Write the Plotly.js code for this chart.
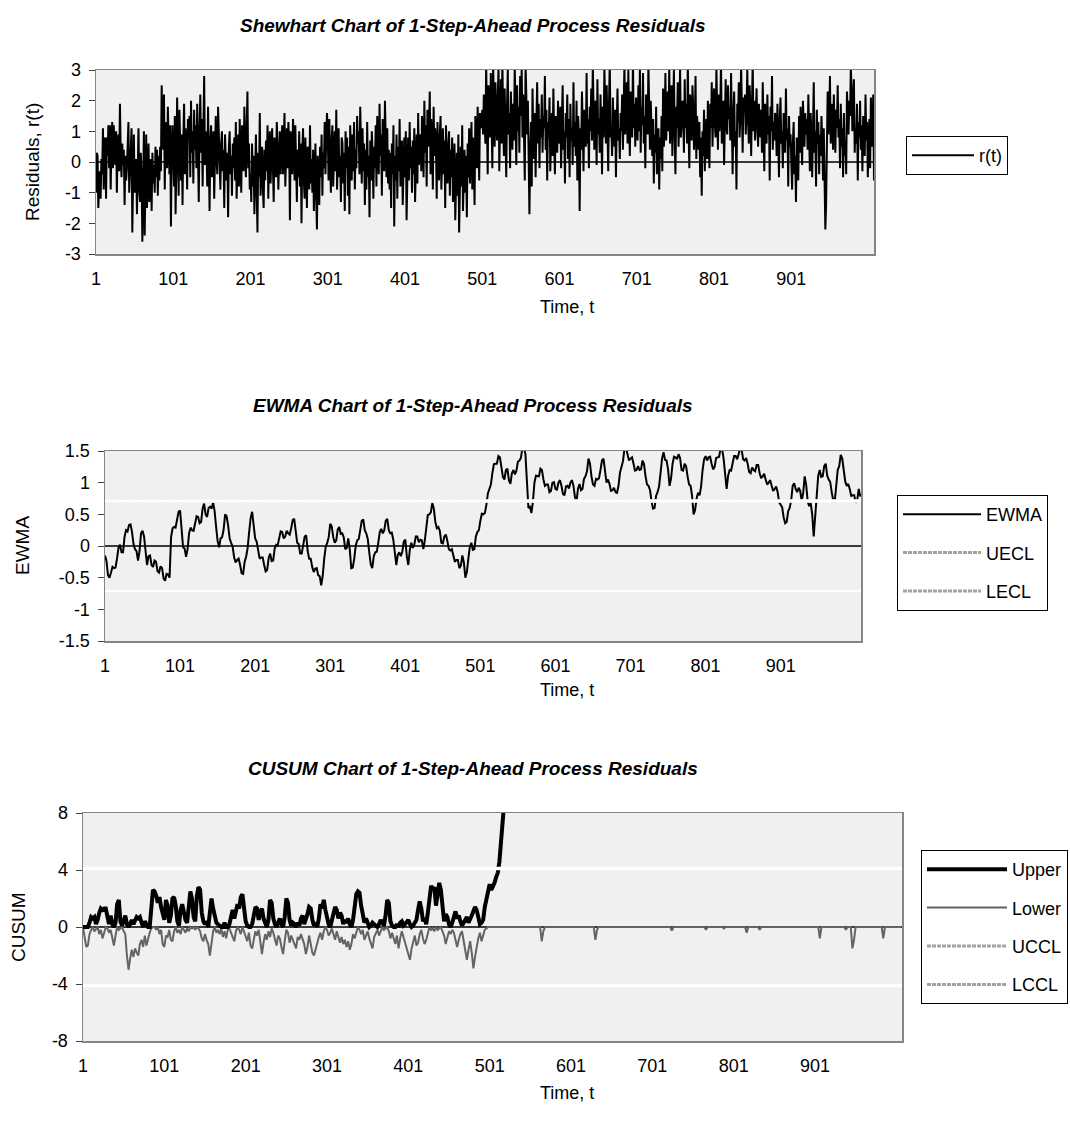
<!DOCTYPE html>
<html>
<head>
<meta charset="utf-8">
<script src="https://cdn.plot.ly/plotly-3.0.1.min.js"></script>
<style>
html,body{margin:0;padding:0;background:#ffffff;}
#chart{width:1070px;height:1122px;}
</style>
</head>
<body>
<div id="chart"></div>
<script>
// ---------- data ----------
// Shewhart chart: 1-step-ahead residuals r(t), t = 1, 2, 3, ...
const residuals = [
-1.0,0.3,0.2,-1.5,-0.8,-0.3,-1.2,0.1,-0.4,1.1,-0.9,0.8,0.7,-1.2,0.8,0.2,1.2,-0.2,1.2,-0.9,
0.6,1.3,-0.2,1.2,0.4,-0.1,1.0,-1.0,0.5,0.9,-0.3,1.9,0.3,-0.5,0.6,-0.1,0.4,-1.4,0.2,-0.6,
-0.2,0.5,1.3,-1.0,-0.3,0.4,1.1,-2.3,0.2,0.9,-1.0,-0.4,0.1,-1.7,0.6,1.1,-0.9,-1.3,0.3,-0.5,
-2.6,-0.4,1.0,-2.4,-0.8,0.9,-1.5,-0.2,0.6,-1.3,-0.6,0.1,-1.6,0.3,-0.7,-0.1,-1.0,0.5,-0.5,0.4,
-1.1,0.2,-0.6,0.5,-0.3,2.5,1.0,0.4,2.2,-0.9,1.3,0.2,-0.2,1.8,0.5,-0.4,1.2,-2.1,0.3,1.2,
0.2,-0.8,1.5,-1.7,-0.2,2.1,0.5,-1.1,1.7,0.3,-0.6,0.9,-1.4,0.7,1.9,-0.4,1.1,0.4,-0.9,1.4,
0.8,1.5,-0.5,2.0,0.3,1.0,-0.7,1.7,0.4,1.2,-0.2,1.9,0.6,-1.3,1.0,2.2,0.3,1.4,-0.8,0.9,
2.8,-0.1,1.0,0.4,-0.8,1.8,0.5,-1.6,0.7,1.2,-0.5,0.3,1.0,-1.2,0.6,1.5,0.1,-0.4,1.8,0.9,
0.2,-0.9,0.6,1.0,-0.3,0.4,-1.5,0.9,0.1,-0.6,0.3,-1.8,0.5,1.0,-0.4,0.2,-1.1,0.6,-0.2,0.8,
-0.6,1.3,-1.2,0.4,0.9,-0.8,1.4,0.2,-1.0,1.2,0.5,-0.3,1.8,0.7,-0.5,1.1,2.3,-0.2,0.6,-0.9,
-0.4,-1.3,0.6,-0.8,0.2,-1.7,-0.3,0.9,-1.0,-2.3,0.3,-0.5,1.6,-1.1,-0.2,0.5,-0.9,-1.5,0.4,-0.6,
0.7,-0.3,1.2,-1.2,0.4,1.0,-0.7,0.3,1.1,-0.2,-1.3,0.8,0.2,-0.5,1.3,0.6,-0.9,0.4,1.0,-0.4,
0.5,1.2,-0.4,0.9,1.6,-0.8,0.3,1.1,-0.2,1.3,0.6,-1.9,1.0,0.2,-0.4,1.4,0.8,-0.6,1.2,-0.1,
-1.3,0.4,-0.5,1.0,-0.8,0.6,-2.0,0.3,1.1,-0.6,-1.2,0.8,-0.3,-1.5,0.5,0.2,-0.9,1.2,-0.7,0.1,
-1.0,0.4,-1.6,-0.3,0.6,-1.2,-2.2,0.2,-0.8,-1.4,0.5,-0.5,0.9,-1.1,0.3,-0.2,1.3,-0.4,0.8,1.6,
0.9,-0.6,1.4,0.3,-1.0,0.7,1.2,-0.8,0.5,1.0,-0.3,1.7,-0.9,0.4,1.1,-0.5,0.2,-1.3,0.8,0.6,
-0.7,0.3,-1.6,1.0,-0.2,0.8,-1.1,0.5,-1.7,1.2,0.1,-0.6,0.9,-0.3,1.3,-0.9,0.4,-0.2,1.5,0.6,
1.0,-0.4,1.8,0.2,-0.7,1.1,-0.3,0.6,-1.4,0.4,-0.9,1.3,-0.5,0.2,-1.8,0.7,-0.6,1.0,0.3,-1.2,
0.5,-0.2,1.2,-0.8,1.5,0.4,-0.4,1.9,0.2,0.9,-1.1,1.4,0.6,-0.3,2.0,0.8,-0.5,1.1,-0.7,0.4,
-0.9,0.3,-1.5,0.6,-0.4,1.2,-2.1,0.2,-0.6,0.9,-1.2,0.5,-0.3,1.4,-0.8,0.1,0.7,-1.4,0.3,0.8,
-0.5,1.0,-1.9,0.4,0.8,-0.6,1.3,-0.2,0.5,-1.0,0.7,-0.4,1.1,-1.3,0.2,0.9,-0.7,1.6,-0.1,0.4,
0.9,-0.3,1.5,0.6,-0.5,2.0,0.3,1.2,-0.8,1.7,0.5,1.0,2.3,-0.4,1.4,0.7,-0.9,1.8,0.2,1.1,
0.6,-1.2,1.3,0.1,-0.6,0.9,1.5,-0.9,0.3,1.1,-0.4,0.7,-1.5,1.2,0.2,-0.7,0.5,1.0,-1.1,0.4,
-0.5,0.8,-1.3,-0.2,0.6,-1.9,-0.6,0.3,-1.1,0.9,-2.3,-0.4,0.5,-0.8,1.2,-1.6,-0.3,0.4,-1.0,0.2,
-1.8,0.6,-0.5,1.1,-0.7,0.3,1.3,-0.9,0.8,0.2,-1.4,1.5,0.4,-0.2,1.8,0.9,-0.6,1.6,1.1,1.4,
1.7,0.9,2.2,1.3,0.6,3.2,1.0,-0.4,2.5,1.6,0.8,2.9,1.2,-0.2,3.3,1.8,0.5,2.6,1.4,0.7,
2.1,3.1,-0.3,1.5,2.7,0.6,3.4,1.2,0.2,2.4,1.0,-0.5,1.8,3.0,0.9,1.6,-0.2,2.3,1.1,0.4,
1.9,0.7,3.2,1.3,-0.1,2.5,1.0,1.8,0.3,2.8,1.5,3.1,0.8,2.2,1.2,-0.6,3.3,1.7,0.9,2.0,
0.5,-1.7,0.2,1.3,-0.8,2.4,0.9,0.1,1.6,-0.5,1.2,2.6,0.6,1.9,-0.2,1.4,0.8,2.2,0.3,1.5,
1.1,2.8,0.4,1.7,-0.6,1.3,0.8,2.1,-0.3,1.0,1.6,0.2,2.4,0.7,-0.4,1.5,1.2,0.3,2.0,0.9,
0.6,1.8,-0.2,1.3,2.5,0.4,1.0,-0.7,1.6,0.8,2.2,0.1,1.4,-0.5,1.9,0.7,1.1,-0.1,2.6,0.5,
1.3,0.2,2.0,-0.6,1.5,0.9,-1.6,1.1,0.4,2.3,0.8,-0.3,1.7,1.2,0.5,2.9,0.6,1.4,-0.2,1.8,
1.0,2.4,0.7,3.2,1.3,0.4,2.0,1.6,-0.1,2.7,0.9,1.4,0.3,2.2,1.1,-0.4,1.8,0.8,3.1,1.2,
0.6,2.5,1.5,-0.3,1.9,3.3,0.8,1.2,0.2,2.1,1.0,0.5,1.7,-0.5,1.3,2.4,0.7,1.1,0.1,1.6,
1.0,2.2,0.4,1.8,3.2,0.9,1.5,2.6,0.6,3.0,1.3,0.2,2.3,1.7,0.8,3.4,1.1,1.9,0.5,2.1,
1.4,0.7,2.5,1.0,3.1,0.3,1.8,1.2,2.9,0.6,1.5,-0.2,2.2,1.3,0.9,3.2,1.6,0.4,2.0,1.1,
0.2,1.4,-0.7,0.9,0.3,1.8,-0.4,0.6,1.1,-0.9,0.8,0.1,1.5,-0.3,2.4,0.5,1.2,2.9,0.7,1.6,
2.3,1.0,3.2,0.6,1.7,2.5,0.2,1.3,3.0,0.9,-0.4,1.8,1.1,2.6,0.5,1.5,3.1,0.8,1.2,2.0,
1.6,0.3,2.7,1.1,1.9,0.6,3.3,1.0,-0.2,2.2,1.4,0.7,2.5,1.8,0.4,1.2,2.8,0.1,1.5,0.9,
0.4,1.3,-0.5,0.8,-1.1,1.0,0.2,1.7,-0.3,0.6,1.4,0.1,2.0,0.7,-0.2,1.9,1.1,2.6,0.5,1.8,
2.4,1.2,0.8,3.1,1.5,0.4,2.2,1.0,1.7,3.3,0.6,1.3,2.0,-0.1,1.6,2.7,1.1,0.9,2.5,1.4,
1.8,0.7,2.9,1.2,-0.4,1.5,2.3,0.5,1.0,-0.9,1.9,1.3,2.6,0.8,1.4,3.2,1.1,0.3,2.1,1.6,
2.2,0.9,1.7,3.0,1.3,0.6,2.5,1.8,0.2,1.4,3.3,1.0,2.0,0.7,1.6,2.4,1.1,0.5,1.9,1.2,
0.8,1.7,0.3,2.6,1.1,-0.3,1.9,1.4,0.6,2.2,0.9,1.5,-0.6,1.8,1.0,2.8,0.4,1.3,0.7,1.6,
1.2,0.2,1.9,0.8,-0.5,1.4,2.1,0.6,1.0,-0.2,1.6,0.9,0.3,2.4,0.7,1.1,-0.8,1.5,0.5,0.9,
0.1,-0.9,0.6,1.3,-0.4,0.2,-1.3,0.8,0.4,-0.6,1.5,0.3,1.8,0.7,-0.1,2.0,1.2,0.5,1.6,0.9,
1.4,0.4,2.2,0.8,-0.3,1.6,0.9,-0.5,1.2,2.6,0.3,1.0,-0.8,1.7,0.6,1.3,-0.4,0.9,0.2,1.5,
0.7,-0.6,1.1,-1.0,-2.2,-1.4,1.8,2.3,0.9,1.5,2.8,0.6,1.2,1.9,0.4,2.2,1.0,0.3,1.7,1.1,
2.5,0.8,1.4,-0.2,1.9,0.5,1.1,-0.5,1.6,0.2,0.7,-0.4,2.3,1.3,0.9,2.0,1.5,3.1,2.4,1.0,
1.6,2.7,0.3,1.1,0.6,1.9,-0.6,1.3,0.8,2.0,0.4,1.2,-0.3,1.5,0.9,0.2,2.2,0.7,1.3,-0.5,
0.6,1.4,-0.2,2.1,0.5,1.0,2.2,-0.6
];

// EWMA chart: values read every 2nd time step (t = 1, 3, 5, ...)
const ewmaStep = 2;
const ewma = [
-0.15,-0.24,-0.46,-0.50,-0.42,-0.33,-0.35,-0.34,-0.2,-0.03,
0.02,-0.1,-0.1,0.14,0.25,0.23,0.33,0.34,0.22,0.03,
-0.05,-0.08,-0.23,-0.08,0.2,0.24,0.15,-0.14,-0.3,-0.16,
-0.15,-0.3,-0.33,-0.23,-0.25,-0.4,-0.42,-0.32,-0.35,-0.51,
-0.55,-0.44,-0.45,-0.5,0.14,0.28,0.3,0.29,0.4,0.54,
0.56,0.21,-0.02,-0.04,-0.17,-0.05,0.2,0.29,0.25,0.24,
0.35,0.47,0.46,0.36,0.38,0.59,0.67,0.5,0.46,0.6,
0.62,0.59,0.69,0.55,0.3,0.08,-0.02,0.12,0.14,0.26,
0.5,0.47,0.32,0.12,0.05,-0.01,-0.18,-0.26,-0.22,-0.2,
-0.3,-0.43,-0.44,-0.25,-0.17,-0.03,0.22,0.44,0.54,0.27,
0.12,0.07,-0.1,-0.2,-0.18,-0.18,-0.3,-0.4,-0.38,-0.19,
-0.12,-0.24,-0.23,-0.04,0.02,0.01,0.12,0.23,0.22,0.12,
0.15,0.24,0.2,0.18,0.28,0.41,0.43,0.18,0.05,0.03,
-0.12,-0.12,0,0.15,0.17,-0.08,-0.2,-0.2,-0.33,-0.41,
-0.36,-0.35,-0.46,-0.48,-0.62,-0.47,-0.2,-0.01,0.05,0.14,
0.35,0.31,0.14,0.05,0.09,0.26,0.3,0.19,0.2,0.14,
-0.05,-0.03,0.12,-0.05,-0.35,-0.34,-0.2,0.01,0.09,0.11,
0.25,0.4,0.42,0.25,0.2,0.11,-0.1,-0.29,-0.35,-0.16,
-0.1,-0.09,0.05,0.22,0.27,0.2,0.25,0.4,0.43,0.25,
0.2,0.21,0.1,-0.16,-0.3,-0.14,-0.1,-0.16,-0.09,0.07,
0.1,-0.16,-0.3,-0.06,0.05,-0.03,0.02,0.15,0.15,0.06,
0.1,0.09,-0.05,0.09,0.35,0.49,0.5,0.53,0.68,0.59,
0.38,0.28,0.3,0.24,0.05,0.04,0.15,0.18,0.08,-0.05,
-0.07,-0.05,-0.15,-0.25,-0.22,-0.22,-0.35,-0.31,-0.15,-0.26,
-0.5,-0.41,-0.2,-0.01,0.05,-0.06,-0.05,0.15,0.22,0.25,
0.4,0.51,0.5,0.52,0.65,0.83,0.9,0.97,1.15,1.29,
1.3,1.3,1.42,1.4,1.25,1.09,1.05,1.2,1.22,1.04,
0.98,1.15,1.2,1.13,1.19,1.33,1.35,1.39,1.55,1.56,
1.45,0.96,0.6,0.62,0.52,0.7,1.0,1.11,1.1,1.1,
1.22,1.2,1.05,0.95,0.97,0.97,0.85,0.87,1.0,1.01,
0.9,0.89,1.0,1.04,0.95,0.82,0.8,0.94,0.95,0.91,
1.0,1.04,0.95,0.77,0.7,0.9,0.98,0.88,0.9,1.06,
1.1,1.18,1.38,1.3,1.1,0.97,0.95,1.06,1.05,1.07,
1.2,1.35,1.38,1.13,1.0,1.05,0.98,0.87,0.88,0.92,
0.85,0.84,0.95,1.16,1.25,1.34,1.55,1.56,1.45,1.35,
1.38,1.4,1.3,1.19,1.2,1.26,1.2,1.21,1.35,1.29,
1.1,0.97,0.95,0.88,0.7,0.59,0.6,0.79,0.85,0.94,
1.15,1.38,1.48,1.36,1.35,1.21,0.95,1.07,1.3,1.41,
1.4,1.37,1.45,1.39,1.2,1.19,1.3,1.26,1.1,0.97,
0.95,0.79,0.5,0.57,0.75,0.84,0.8,0.94,1.2,1.37,
1.42,1.35,1.4,1.41,1.3,1.21,1.25,1.39,1.4,1.41,
1.55,1.53,1.38,1.08,0.9,1.11,1.2,1.19,1.3,1.42,
1.42,1.37,1.45,1.55,1.52,1.37,1.35,1.39,1.3,1.17,
1.15,1.24,1.2,1.18,1.28,1.28,1.15,1.07,1.1,1.14,
1.05,0.97,1.0,1.04,0.95,0.87,0.9,0.94,0.85,0.69,
0.65,0.61,0.45,0.36,0.38,0.55,0.6,0.72,0.95,0.99,
0.9,0.85,0.92,0.87,0.7,0.84,1.1,0.96,0.7,0.63,
0.68,0.5,0.15,0.52,0.9,1.11,1.2,1.09,1.1,1.26,
1.3,1.11,1.05,1.01,0.85,0.72,0.7,1.01,1.2,1.26,
1.44,1.38,1.2,1.02,0.95,0.98,0.9,0.79,0.8,0.8,
0.68,0.73,0.9,0.78
];
const uecl = 0.71;
const lecl = -0.71;

// CUSUM chart: values read every 2nd time step (t = 1, 3, 5, ...)
const cusumStep = 2;
const cusumUpper = [
0,0,0,0,0.3,0.7,0.6,0.7,0.2,0.5,
1.0,1.3,1.2,1.3,1.3,0.6,0.2,0.8,0.2,0,
0.3,1.6,1.9,0.4,0.1,0.4,0.8,0.2,0,0.2,
0.5,0.2,0.4,0.7,0.6,0.7,0.3,0,0.4,0.2,
0,0,1.2,2.6,2.5,2.2,1.7,2.1,1.4,1.0,
0.5,1.9,1.5,0.3,0.8,2.0,2.1,1.5,0.4,0.1,
1.2,1.6,1.0,0.5,0.3,1.8,2.5,2.0,0.7,0.4,
2.2,2.8,2.6,1.0,0.4,0.2,0.4,0,1.0,2.0,
1.3,0.6,0.3,0.2,0.1,0,0,0.3,0,0,
0.2,0.8,1.2,0.6,1.0,1.6,1.3,2.1,2.3,1.1,
0.4,0.1,0,0,0.2,0.8,1.4,1.3,0.5,1.0,
1.3,0.6,0.2,0,0.5,1.9,1.7,0.6,0.2,0,
0.3,0.6,0.2,0,0.7,2.0,1.7,0.5,0.1,0.3,
0.2,0,0.3,0.1,0.6,0.8,0.2,0.5,0.9,1.4,
1.3,0.5,0.1,0.3,0,0.6,1.6,1.3,1.9,1.2,
0.5,0.2,0,0.4,1.0,1.4,1.2,0.6,1.0,0.8,
0.2,0.5,0.3,0.6,0.2,0,0.5,1.2,2.3,2.5,
2.4,1.5,0.8,0.3,0.6,0.2,0,0.1,0.3,0.2,
0.1,0,0.2,0.5,0.3,0.1,0.8,1.9,1.7,0.4,
0.1,0,0,0.2,0,0.3,0.4,0.1,0.2,0.4,
0.5,0.2,0,0.1,0.3,0.5,1.2,1.8,1.3,0.4,
0.6,0.2,1.0,2.2,2.9,2.6,2.8,1.5,2.4,3.1,
2.6,1.2,0.4,0.9,0.7,0.2,0,0.3,0.8,1.1,
0.6,0.8,0.4,0.1,0.3,0.5,0.7,0.3,0.5,0.8,
1.1,1.4,1.2,0.6,0.2,0.3,0.5,1.4,1.9,2.4,
3.0,2.6,2.8,3.1,3.5,3.8,4.6,6.0,7.4,8.8,
10.2
];
const cusumLower = [
0,-0.6,-1.4,-1.3,-0.5,-0.2,0,-0.3,-0.1,0,
-0.5,-0.2,-0.8,-0.3,0,-0.1,-0.4,-0.2,-0.9,-1.3,
-0.6,0,-0.2,-0.1,0,-0.3,-0.5,-2.0,-3.0,-2.2,
-1.6,-2.1,-1.5,-1.8,-2.0,-1.2,-0.9,-1.4,-0.6,-1.3,
-0.8,-0.4,-0.1,0,0,-0.2,0,-0.5,-0.2,-1.2,
-1.4,-0.6,-0.7,-0.2,-0.9,-1.0,-0.3,0,-0.4,-0.2,
-0.5,0,-0.2,-0.4,-0.1,-0.3,0,-0.1,0,-0.2,
0,-0.1,-0.3,-0.8,-1.0,-0.5,-0.9,-1.2,-2.0,-1.1,
-0.3,0,-0.4,-0.2,-0.5,-0.1,-0.7,-0.3,-0.8,-0.2,
-0.1,-0.4,-0.7,-1.0,-0.3,0,-0.2,-0.5,0,-0.3,
-0.6,-1.0,-0.4,-1.3,-1.5,-0.9,-0.3,-0.6,-0.2,-1.0,
-1.9,-1.1,-0.5,-0.9,-0.3,-0.7,-0.1,-0.4,-0.9,-1.3,
-0.6,-0.8,-1.4,-1.9,-1.0,-0.2,-0.4,-1.1,-0.6,-0.9,
-1.3,-1.5,-0.7,-0.9,-0.5,-0.8,-1.2,-1.9,-1.4,-0.6,
-1.1,-1.8,-2.0,-1.5,-1.2,-0.7,-0.4,-0.9,-0.3,0,
-0.2,-0.6,-0.4,-0.1,-0.5,-0.9,-0.3,-0.8,-1.1,-0.7,
-1.2,-0.9,-1.4,-1.0,-1.6,-1.2,-0.5,-0.8,-0.3,0,
-0.2,-0.5,-0.2,-0.9,-0.6,-0.3,-0.8,-1.2,-1.5,-0.7,
-0.4,-0.2,-0.6,-0.3,0,-0.2,-0.1,0,-0.3,-0.8,
-0.4,-0.9,-1.2,-0.6,-1.5,-0.8,-0.3,-0.7,-1.1,-1.6,
-1.9,-2.3,-1.5,-1.0,-0.6,-1.3,-1.1,-0.5,-0.2,-0.8,
-1.2,-0.9,-0.4,0,-0.2,-0.1,-0.3,0,-0.2,-0.1,
0,-0.3,-0.6,-1.2,-0.8,-0.3,-0.5,-0.2,-0.4,-1.0,
-1.4,-0.9,-0.5,-0.3,-0.9,-1.5,-2.3,-1.6,-1.0,-1.8,
-2.9,-2.1,-1.4,-0.8,-0.4,-1.0,-0.6,-0.2,-0.1,0,
0,0,0,0,0,0,0,0,0,0,
0,0,0,0,0,0,0,0,0,0,
0,0,0,0,0,0,0,0,0,0,
0,0,-1.0,-0.3,0,0,0,0,0,0,
0,0,0,0,0,0,0,0,0,0,
0,0,0,0,0,0,0,0,0,0,
0,0,0,0,0,-0.9,-0.2,0,0,0,
0,0,0,0,0,0,0,0,0,0,
0,0,0,0,0,0,0,0,0,0,
0,0,0,0,0,0,0,0,0,0,
0,0,0,0,0,0,0,0,0,0,
0,0,-0.25,0,0,0,0,0,0,0,
0,0,0,0,0,0,0,0,0,0,
0,0,0,-0.2,0,0,0,0,0,0,
0,0,0,0,-0.1,0,0,0,0,0,
0,0,0,0,0,0,0,0,-0.4,0,
0,0,0,0,0,0,-0.2,0,0,0,
0,0,0,0,0,0,0,0,0,0,
0,0,0,0,0,0,0,0,0,0,
0,0,0,0,0,0,0,0,0,0,
0,0,0,-0.8,0,0,0,0,0,0,
0,0,0,0,0,0,0,0,0,-0.2,
0,0,0,-1.5,-0.9,0,0,0,0,0,
0,0,0,0,0,0,0,0,0,0,
0,0,-0.8,0,0,0,0,0,0,0,
0,0,0,0
];
const uccl = 4.1;
const lccl = -4.1;

// axis ticks
const timeTicks = [1, 101, 201, 301, 401, 501, 601, 701, 801, 901];
const rTicks = [-3, -2, -1, 0, 1, 2, 3];
const ewmaTicks = [-1.5, -1, -0.5, 0, 0.5, 1, 1.5];
const cusumTicks = [-8, -4, 0, 4, 8];

// ---------- build ----------
const N = residuals.length;
const tR = residuals.map((_, i) => i + 1);
const tE = ewma.map((_, i) => 1 + ewmaStep * i);
const tCu = cusumUpper.map((_, i) => 1 + cusumStep * i);
const tCl = cusumLower.map((_, i) => 1 + cusumStep * i);
const tSpan = [1, N];
const flat = v => [v, v];

const W = 1070, H = 1122;
const px = v => v / W;
const py = v => 1 - v / H;
const FONT = 'Arial, "Liberation Sans", Helvetica, sans-serif';
const limitLegendColor = '#a3a3a3';

const traces = [
  // Shewhart
  {x: tR, y: residuals, type: 'scatter', mode: 'lines', name: 'r(t)',
   xaxis: 'x', yaxis: 'y', legend: 'legend',
   line: {color: '#000000', width: 2}},
  // EWMA
  {x: tE, y: ewma, type: 'scatter', mode: 'lines', name: 'EWMA',
   xaxis: 'x2', yaxis: 'y2', legend: 'legend2', legendgroup: 'e1',
   line: {color: '#000000', width: 2}},
  {x: tSpan, y: flat(uecl), type: 'scatter', mode: 'lines', name: 'UECL',
   xaxis: 'x2', yaxis: 'y2', legend: 'legend2', legendgroup: 'e2',
   line: {color: limitLegendColor, width: 3, dash: '4px,1px'}},
  {x: tSpan, y: flat(lecl), type: 'scatter', mode: 'lines', name: 'LECL',
   xaxis: 'x2', yaxis: 'y2', legend: 'legend2', legendgroup: 'e3',
   line: {color: limitLegendColor, width: 3, dash: '4px,1px'}},
  {x: tSpan, y: flat(uecl), type: 'scatter', mode: 'lines', showlegend: false,
   xaxis: 'x2', yaxis: 'y2', line: {color: '#ffffff', width: 3.5}, hoverinfo: 'skip'},
  {x: tSpan, y: flat(lecl), type: 'scatter', mode: 'lines', showlegend: false,
   xaxis: 'x2', yaxis: 'y2', line: {color: '#ffffff', width: 3.5}, hoverinfo: 'skip'},
  // CUSUM
  {x: tCl, y: cusumLower, type: 'scatter', mode: 'lines', name: 'Lower',
   xaxis: 'x3', yaxis: 'y3', legend: 'legend3', legendgroup: 'c2', legendrank: 2,
   line: {color: '#646464', width: 2}},
  {x: tCu, y: cusumUpper, type: 'scatter', mode: 'lines', name: 'Upper',
   xaxis: 'x3', yaxis: 'y3', legend: 'legend3', legendgroup: 'c1', legendrank: 1,
   line: {color: '#000000', width: 4}},
  {x: tSpan, y: flat(uccl), type: 'scatter', mode: 'lines', name: 'UCCL',
   xaxis: 'x3', yaxis: 'y3', legend: 'legend3', legendgroup: 'c3', legendrank: 3,
   line: {color: limitLegendColor, width: 3, dash: '4px,1px'}},
  {x: tSpan, y: flat(lccl), type: 'scatter', mode: 'lines', name: 'LCCL',
   xaxis: 'x3', yaxis: 'y3', legend: 'legend3', legendgroup: 'c4', legendrank: 4,
   line: {color: limitLegendColor, width: 3, dash: '4px,1px'}},
  {x: tSpan, y: flat(uccl), type: 'scatter', mode: 'lines', showlegend: false,
   xaxis: 'x3', yaxis: 'y3', line: {color: '#ffffff', width: 3.5}, hoverinfo: 'skip'},
  {x: tSpan, y: flat(lccl), type: 'scatter', mode: 'lines', showlegend: false,
   xaxis: 'x3', yaxis: 'y3', line: {color: '#ffffff', width: 3.5}, hoverinfo: 'skip'}
];

function xAxis(d0, d1, anchor) {
  return {
    domain: [px(d0), px(d1)], anchor: anchor, range: [1, N],
    tickmode: 'array', tickvals: timeTicks, ticktext: timeTicks.map(String),
    ticks: '', showgrid: false, zeroline: false,
    showline: true, mirror: true, linecolor: '#858585', linewidth: 1.5,
    tickfont: {family: FONT, size: 18, color: '#000'}, ticklabelstandoff: 8
  };
}
function yAxis(top, bottom, anchor, ticks, range) {
  return {
    domain: [py(bottom), py(top)], anchor: anchor, range: range,
    tickmode: 'array', tickvals: ticks, ticktext: ticks.map(String),
    ticks: 'outside', ticklen: 6, tickwidth: 1, tickcolor: '#444',
    showgrid: false, zeroline: true, zerolinecolor: '#3a3a3a', zerolinewidth: 1.2,
    showline: true, mirror: true, linecolor: '#858585', linewidth: 1.5,
    tickfont: {family: FONT, size: 18, color: '#000'}, ticklabelstandoff: 4
  };
}
function legendBox(x, y, gap, itemW) {
  return {
    x: px(x), y: py(y), xanchor: 'left', yanchor: 'top',
    bgcolor: '#ffffff', bordercolor: '#000000', borderwidth: 1,
    font: {family: FONT, size: 18, color: '#000'},
    itemwidth: itemW, tracegroupgap: gap, traceorder: 'grouped'
  };
}
function note(text, x, y, size, angle) {
  return {text: text, xref: 'paper', yref: 'paper', x: px(x), y: py(y),
    xanchor: 'center', yanchor: 'middle', showarrow: false, textangle: angle || 0,
    font: {family: FONT, size: size, color: '#000'}};
}

const layout = {
  width: W, height: H,
  margin: {l: 0, r: 0, t: 0, b: 0},
  paper_bgcolor: '#ffffff', plot_bgcolor: '#f0f0f0',
  font: {family: FONT, size: 18, color: '#000'},
  xaxis: xAxis(96, 874, 'y'),
  yaxis: yAxis(70, 254, 'x', rTicks, [-3, 3]),
  xaxis2: xAxis(105, 861, 'y2'),
  yaxis2: yAxis(451, 641, 'x2', ewmaTicks, [-1.5, 1.5]),
  xaxis3: xAxis(83, 902, 'y3'),
  yaxis3: yAxis(813, 1041, 'x3', cusumTicks, [-8, 8]),
  legend: legendBox(906, 136, 0, 62),
  legend2: legendBox(897, 495, 12, 78),
  legend3: legendBox(921, 850, 12, 80),
  annotations: [
    note('<b><i>Shewhart Chart of 1-Step-Ahead Process Residuals</i></b>', 473, 25, 19),
    note('<b><i>EWMA Chart of 1-Step-Ahead Process Residuals</i></b>', 473, 406, 19),
    note('<b><i>CUSUM Chart of 1-Step-Ahead Process Residuals</i></b>', 473, 768, 19),
    note('Time, t', 567, 307, 18),
    note('Time, t', 567, 690, 18),
    note('Time, t', 567, 1093, 18),
    note('Residuals, r(t)', 32, 162, 19, -90),
    note('EWMA', 23, 546, 19, -90),
    note('CUSUM', 18, 927, 19, -90)
  ],
  showlegend: true
};

Plotly.newPlot('chart', traces, layout, {displayModeBar: false, staticPlot: true});
</script>
</body>
</html>
